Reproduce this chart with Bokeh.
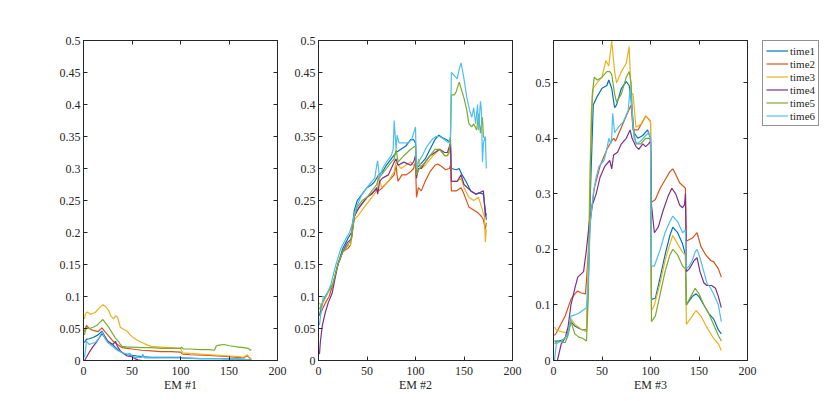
from bokeh.plotting import figure
from bokeh.models import Range1d, FixedTicker, LinearAxis, Legend, LegendItem, CustomLabelingPolicy
from bokeh.layouts import row
from bokeh.embed import file_html
from bokeh.resources import INLINE

series_names = ["time1", "time2", "time3", "time4", "time5", "time6"]
series_colors = ["#0072BD", "#D95319", "#EDB120", "#7E2F8E", "#77AC30", "#4DBEEE"]
panel_labels = ["EM #1", "EM #2", "EM #3"]

x_ticks = [0, 50, 100, 150, 200]
y_ticks_a = [0, 0.05, 0.1, 0.15, 0.2, 0.25, 0.3, 0.35, 0.4, 0.45, 0.5]
y_labels_a = ["0", "0.05", "0.1", "0.15", "0.2", "0.25", "0.3", "0.35", "0.4", "0.45", "0.5"]
y_ticks_b = [0, 0.1, 0.2, 0.3, 0.4, 0.5]
y_labels_b = ["0", "0.1", "0.2", "0.3", "0.4", "0.5"]

# ---- EM #1 ----
em1_time1 = [(1,0.028),(3,0.033),(6,0.034),(10,0.036),(15,0.04),(19,0.046),(22,0.038),(25,0.03),(30,0.025),(33,0.02),(36,0.016),(40,0.012),(45,0.009),(50,0.008),(55,0.007),(60,0.006),(70,0.005),(80,0.005),(100,0.005),(101,0.004),(120,0.003),(140,0.003),(160,0.002),(173,0.001)]
em1_time2 = [(1,0.045),(3,0.055),(6,0.05),(10,0.047),(15,0.045),(19,0.051),(22,0.045),(25,0.04),(30,0.031),(35,0.025),(40,0.02),(45,0.019),(50,0.018),(60,0.016),(70,0.015),(80,0.014),(90,0.014),(100,0.013),(102,0.01),(110,0.009),(130,0.008),(150,0.006),(165,0.004),(169,0.008),(171,0.004),(173,0.002)]
em1_time3 = [(1,0.065),(2,0.073),(4,0.076),(7,0.072),(12,0.075),(17,0.083),(20,0.087),(23,0.084),(26,0.078),(28,0.07),(31,0.065),(33,0.07),(35,0.068),(38,0.052),(42,0.048),(45,0.046),(48,0.04),(52,0.035),(55,0.032),(59,0.029),(62,0.027),(66,0.024),(70,0.022),(80,0.021),(90,0.02),(100,0.019),(102,0.012),(110,0.011),(120,0.01),(130,0.009),(140,0.008),(150,0.007),(160,0.006),(165,0.005),(169,0.009),(171,0.004),(173,0.003)]
em1_time4 = [(1,0.0),(3,0.005),(6,0.013),(10,0.022),(14,0.03),(19,0.042),(22,0.036),(25,0.03),(28,0.027),(30,0.025),(33,0.03),(35,0.022),(38,0.015),(42,0.01),(45,0.007),(50,0.006),(53,0.003),(56,0.001),(60,0.0),(80,0.0),(100,0.0),(120,0.0),(140,0.0),(160,0.0),(173,0.0)]
em1_time5 = [(1,0.04),(3,0.052),(6,0.05),(10,0.052),(14,0.055),(17,0.06),(20,0.064),(23,0.058),(26,0.052),(30,0.042),(33,0.035),(36,0.03),(38,0.025),(40,0.022),(45,0.021),(50,0.021),(60,0.02),(70,0.02),(80,0.019),(90,0.019),(100,0.019),(101,0.021),(103,0.018),(110,0.018),(120,0.017),(130,0.017),(135,0.016),(137,0.023),(140,0.024),(145,0.025),(150,0.023),(160,0.021),(165,0.02),(170,0.019),(172,0.016),(173,0.017)]
em1_time6 = [(1,0.005),(2,0.015),(3,0.03),(6,0.025),(9,0.027),(12,0.028),(16,0.035),(19,0.045),(22,0.035),(25,0.028),(30,0.022),(33,0.018),(36,0.015),(40,0.012),(45,0.01),(48,0.011),(50,0.007),(52,0.005),(60,0.005),(61,0.01),(63,0.004),(70,0.004),(90,0.004),(100,0.004),(120,0.003),(140,0.003),(160,0.002),(173,0.001)]

# ---- EM #2 ----
em2_time1 = [(1,0.07),(4,0.09),(7,0.1),(11,0.11),(15,0.12),(20,0.15),(25,0.175),(30,0.19),(34,0.2),(37,0.235),(40,0.25),(45,0.26),(50,0.27),(55,0.275),(58,0.28),(62,0.29),(66,0.295),(70,0.305),(75,0.315),(80,0.325),(85,0.33),(90,0.335),(95,0.345),(98,0.345),(100,0.34),(101,0.3),(104,0.305),(110,0.315),(115,0.33),(120,0.345),(124,0.352),(128,0.348),(132,0.345),(135,0.342),(136,0.345),(137,0.3),(142,0.298),(145,0.3),(148,0.29),(152,0.28),(157,0.265),(162,0.26),(166,0.262),(170,0.26),(172,0.235),(173,0.22)]
em2_time2 = [(1,0.07),(4,0.08),(7,0.09),(11,0.1),(15,0.12),(20,0.15),(25,0.17),(30,0.175),(33,0.18),(35,0.21),(37,0.225),(42,0.24),(50,0.255),(58,0.265),(62,0.265),(66,0.27),(72,0.28),(78,0.29),(80,0.305),(81,0.29),(82,0.28),(86,0.29),(90,0.29),(95,0.295),(98,0.3),(100,0.31),(101,0.255),(103,0.27),(106,0.265),(110,0.28),(115,0.295),(120,0.305),(123,0.307),(127,0.303),(131,0.298),(135,0.3),(136,0.305),(137,0.265),(142,0.265),(147,0.27),(150,0.26),(155,0.24),(160,0.235),(165,0.23),(168,0.225),(170,0.22),(172,0.205),(173,0.215)]
em2_time3 = [(1,0.09),(3,0.085),(6,0.095),(11,0.11),(15,0.12),(20,0.15),(25,0.17),(30,0.18),(33,0.18),(35,0.21),(37,0.22),(40,0.225),(45,0.235),(50,0.245),(55,0.255),(60,0.265),(62,0.29),(65,0.27),(72,0.28),(78,0.295),(80,0.31),(85,0.3),(90,0.305),(95,0.31),(98,0.305),(100,0.3),(101,0.29),(103,0.315),(106,0.3),(110,0.305),(118,0.32),(125,0.33),(130,0.32),(133,0.32),(135,0.325),(136,0.33),(137,0.28),(143,0.28),(147,0.285),(150,0.27),(155,0.255),(160,0.25),(165,0.255),(168,0.24),(170,0.23),(171,0.225),(172,0.185),(173,0.205)]
em2_time4 = [(1,0.01),(2,0.03),(4,0.055),(7,0.075),(10,0.09),(14,0.105),(20,0.15),(25,0.17),(30,0.185),(34,0.19),(37,0.225),(40,0.235),(45,0.245),(50,0.255),(55,0.26),(60,0.27),(61,0.26),(63,0.28),(66,0.285),(72,0.29),(78,0.31),(80,0.315),(82,0.305),(88,0.31),(95,0.305),(98,0.31),(100,0.32),(101,0.285),(103,0.3),(106,0.3),(110,0.31),(115,0.32),(120,0.325),(125,0.33),(130,0.325),(133,0.325),(135,0.335),(136,0.34),(137,0.28),(143,0.28),(147,0.29),(150,0.275),(157,0.265),(162,0.26),(166,0.262),(170,0.265),(172,0.225),(173,0.23)]
em2_time5 = [(1,0.08),(4,0.09),(7,0.1),(11,0.11),(15,0.12),(20,0.15),(25,0.17),(30,0.18),(34,0.19),(37,0.225),(40,0.24),(45,0.25),(50,0.255),(55,0.265),(60,0.275),(62,0.285),(65,0.29),(70,0.3),(75,0.31),(78,0.315),(80,0.33),(82,0.31),(88,0.32),(95,0.33),(100,0.335),(101,0.29),(104,0.3),(110,0.31),(115,0.32),(120,0.33),(125,0.33),(130,0.32),(133,0.32),(135,0.33),(136,0.34),(137,0.415),(140,0.415),(142,0.42),(145,0.435),(148,0.42),(150,0.41),(153,0.39),(155,0.37),(158,0.365),(160,0.37),(163,0.36),(165,0.385),(167,0.355),(169,0.38),(170,0.35),(172,0.345),(173,0.345)]
em2_time6 = [(1,0.055),(3,0.08),(5,0.1),(8,0.1),(13,0.12),(18,0.15),(23,0.175),(28,0.19),(32,0.2),(35,0.215),(38,0.235),(42,0.25),(45,0.26),(50,0.27),(55,0.28),(58,0.285),(60,0.305),(61,0.312),(63,0.285),(66,0.3),(70,0.31),(75,0.32),(77,0.33),(78,0.375),(80,0.33),(81,0.352),(83,0.34),(87,0.34),(92,0.34),(96,0.345),(99,0.36),(100,0.365),(101,0.3),(103,0.31),(107,0.32),(112,0.335),(117,0.345),(121,0.35),(125,0.35),(130,0.345),(134,0.34),(136,0.35),(137,0.45),(140,0.445),(143,0.44),(145,0.455),(147,0.465),(150,0.44),(153,0.41),(156,0.39),(158,0.38),(160,0.395),(162,0.37),(164,0.4),(165,0.36),(167,0.405),(168,0.39),(169,0.31),(170,0.34),(172,0.35),(173,0.30)]

# ---- EM #3 ----
em3_time1 = [(1,0.035),(5,0.035),(10,0.037),(14,0.045),(18,0.07),(22,0.062),(26,0.058),(30,0.055),(34,0.055),(36,0.15),(38,0.3),(41,0.46),(45,0.475),(50,0.49),(55,0.495),(57,0.505),(60,0.49),(63,0.455),(65,0.46),(70,0.49),(75,0.502),(78,0.495),(80,0.47),(83,0.41),(87,0.4),(92,0.405),(97,0.415),(100,0.4),(101,0.11),(105,0.112),(110,0.15),(115,0.19),(120,0.225),(123,0.24),(128,0.23),(133,0.21),(136,0.19),(137,0.1),(143,0.115),(147,0.12),(150,0.115),(155,0.1),(160,0.085),(165,0.075),(170,0.055),(173,0.048)]
em3_time2 = [(1,0.045),(3,0.05),(6,0.06),(12,0.08),(15,0.095),(18,0.11),(22,0.12),(25,0.125),(28,0.122),(33,0.12),(35,0.17),(38,0.25),(42,0.31),(45,0.33),(48,0.35),(55,0.38),(60,0.395),(62,0.4),(64,0.395),(70,0.42),(75,0.44),(80,0.46),(82,0.415),(87,0.415),(92,0.43),(95,0.44),(98,0.435),(100,0.43),(101,0.285),(105,0.29),(110,0.31),(115,0.325),(120,0.34),(123,0.345),(126,0.335),(130,0.32),(133,0.315),(136,0.31),(137,0.215),(143,0.22),(148,0.23),(152,0.205),(157,0.19),(162,0.18),(165,0.178),(170,0.165),(173,0.15)]
em3_time3 = [(1,0.06),(3,0.055),(8,0.052),(13,0.05),(18,0.075),(22,0.065),(26,0.06),(30,0.055),(34,0.052),(36,0.2),(39,0.45),(41,0.49),(45,0.5),(50,0.51),(54,0.54),(57,0.53),(60,0.575),(63,0.52),(65,0.5),(70,0.52),(75,0.535),(78,0.565),(80,0.48),(82,0.48),(85,0.42),(90,0.425),(95,0.44),(98,0.435),(100,0.43),(101,0.09),(104,0.1),(110,0.14),(115,0.18),(120,0.21),(123,0.225),(128,0.21),(133,0.195),(136,0.19),(137,0.065),(143,0.08),(147,0.09),(152,0.08),(158,0.06),(165,0.04),(170,0.03),(173,0.018)]
em3_time4 = [(1,0.0),(4,0.0),(8,0.03),(12,0.04),(15,0.06),(18,0.1),(22,0.13),(25,0.15),(28,0.155),(31,0.16),(34,0.2),(37,0.25),(40,0.28),(44,0.3),(48,0.33),(53,0.35),(58,0.36),(60,0.345),(62,0.37),(66,0.375),(70,0.39),(75,0.4),(79,0.415),(81,0.4),(85,0.385),(88,0.38),(92,0.39),(95,0.385),(98,0.39),(100,0.395),(101,0.28),(104,0.23),(108,0.24),(113,0.27),(118,0.295),(122,0.31),(126,0.3),(130,0.28),(133,0.275),(135,0.28),(136,0.3),(137,0.16),(140,0.165),(145,0.18),(148,0.185),(151,0.16),(155,0.14),(158,0.135),(163,0.135),(167,0.13),(170,0.115),(173,0.095)]
em3_time5 = [(1,0.03),(5,0.035),(12,0.032),(15,0.045),(18,0.07),(22,0.048),(26,0.042),(30,0.04),(34,0.035),(36,0.12),(38,0.35),(40,0.48),(42,0.51),(45,0.505),(50,0.51),(55,0.52),(58,0.52),(60,0.515),(63,0.48),(65,0.465),(70,0.48),(75,0.51),(78,0.52),(80,0.5),(82,0.42),(85,0.39),(90,0.39),(95,0.4),(99,0.4),(100,0.395),(101,0.07),(105,0.08),(110,0.12),(115,0.16),(120,0.19),(123,0.2),(128,0.19),(133,0.17),(136,0.165),(137,0.1),(140,0.11),(146,0.13),(150,0.12),(155,0.1),(160,0.085),(165,0.065),(170,0.045),(173,0.035)]
em3_time6 = [(1,0.0),(3,0.03),(8,0.035),(12,0.04),(15,0.05),(18,0.08),(22,0.082),(26,0.085),(30,0.09),(34,0.095),(36,0.15),(38,0.25),(41,0.3),(44,0.33),(47,0.35),(52,0.36),(55,0.38),(57,0.4),(59,0.39),(60,0.4),(61,0.445),(63,0.41),(67,0.42),(72,0.43),(77,0.45),(79,0.49),(81,0.45),(83,0.4),(86,0.39),(90,0.395),(95,0.405),(98,0.41),(100,0.4),(101,0.17),(104,0.17),(110,0.2),(115,0.23),(120,0.25),(123,0.26),(128,0.25),(133,0.23),(136,0.235),(137,0.165),(140,0.17),(143,0.18),(146,0.195),(148,0.2),(151,0.185),(155,0.16),(158,0.14),(162,0.13),(165,0.12),(170,0.1),(172,0.08),(173,0.07)]

panel_series = [
    [em1_time1, em1_time2, em1_time3, em1_time4, em1_time5, em1_time6],
    [em2_time1, em2_time2, em2_time3, em2_time4, em2_time5, em2_time6],
    [em3_time1, em3_time2, em3_time3, em3_time4, em3_time5, em3_time6],
]
panel_ymax = [0.5, 0.5, 0.576]

AX = "#262626"
FONT = "Liberation Serif"
LW = 1.2
TOP = 40
BOTTOM = 35
H = TOP + 320 + BOTTOM


def style_axis(ax, ticks, labels=None, show_labels=True, standoff=3):
    ax.ticker = FixedTicker(ticks=ticks)
    ax.axis_line_color = AX
    ax.axis_line_width = 1
    ax.major_tick_line_color = AX
    ax.major_tick_in = 4
    ax.major_tick_out = 0
    ax.minor_tick_in = 0
    ax.minor_tick_out = 0
    ax.major_label_text_font = FONT
    ax.major_label_text_color = AX
    if show_labels:
        ax.major_label_text_font_size = "12px"
        ax.major_label_standoff = standoff
    else:
        ax.major_label_text_font_size = "0px"
        ax.major_label_standoff = 0
        ax.major_label_policy = CustomLabelingPolicy(code="return new Set()")
    if labels is not None:
        ax.major_label_overrides = {t: l for t, l in zip(ticks, labels)}


def split(s):
    return [a for a, b in s], [b for a, b in s]


def make_panel(i, width, left, right):
    ymax = panel_ymax[i]
    yt = y_ticks_a if i < 2 else y_ticks_b
    yl = y_labels_a if i < 2 else y_labels_b
    p = figure(width=width, height=H, x_range=Range1d(0, 200), y_range=Range1d(0, ymax),
               output_backend="svg", toolbar_location=None,
               min_border_left=left, min_border_right=right, min_border_top=TOP, min_border_bottom=BOTTOM)
    p.xgrid.visible = False
    p.ygrid.visible = False
    p.outline_line_color = AX
    p.outline_line_width = 1
    p.background_fill_color = "white"
    p.border_fill_color = "white"
    style_axis(p.xaxis[0], x_ticks, [str(t) for t in x_ticks], standoff=6)
    style_axis(p.yaxis[0], yt, yl, standoff=3)
    p.xaxis[0].axis_label = panel_labels[i]
    p.xaxis[0].axis_label_text_font = FONT
    p.xaxis[0].axis_label_text_font_style = "normal"
    p.xaxis[0].axis_label_text_font_size = "12px"
    p.xaxis[0].axis_label_text_color = AX
    p.xaxis[0].axis_label_standoff = 0
    top = LinearAxis()
    style_axis(top, x_ticks, show_labels=False)
    p.add_layout(top, "above")
    rgt = LinearAxis()
    style_axis(rgt, yt, show_labels=False)
    p.add_layout(rgt, "right")
    for s, c in zip(panel_series[i], series_colors):
        xs, ys = split(s)
        p.line(xs, ys, line_color=c, line_width=LW)
    return p


p1 = make_panel(0, 83 + 194 + 10, 83, 10)
p2 = make_panel(1, 31 + 194 + 10, 31, 10)
p3 = make_panel(2, 31 + 194 + 10, 31, 10)

# legend lives in its own small, axis-free figure right of EM #3; its renderers
# carry the EM #3 series but the view range keeps them out of sight
pl = figure(width=65, height=H, x_range=Range1d(1000, 1001), y_range=Range1d(1000, 1001),
            output_backend="svg", toolbar_location=None,
            min_border_left=5, min_border_right=0, min_border_top=39, min_border_bottom=0)
pl.xaxis.visible = False
pl.yaxis.visible = False
pl.xgrid.visible = False
pl.ygrid.visible = False
pl.outline_line_color = None
pl.background_fill_color = "white"
pl.border_fill_color = "white"
legend_renderers = []
for s, c in zip(panel_series[2], series_colors):
    xs, ys = split(s)
    legend_renderers.append(pl.line(xs, ys, line_color=c, line_width=LW))

legend = Legend(items=[LegendItem(label=n, renderers=[r]) for n, r in zip(series_names, legend_renderers)],
                location="top_left")
legend.label_text_font = FONT
legend.label_text_font_size = "11px"
legend.label_text_color = AX
legend.glyph_width = 22
legend.glyph_height = 13
legend.label_height = 13
legend.label_standoff = 2
legend.spacing = 0
legend.padding = 3
legend.margin = 0
legend.border_line_color = AX
legend.border_line_width = 1
legend.background_fill_color = "white"
legend.background_fill_alpha = 1
pl.add_layout(legend, "center")

layout = row(p1, p2, p3, pl)
open("out.html", "w").write(file_html(layout, INLINE))
